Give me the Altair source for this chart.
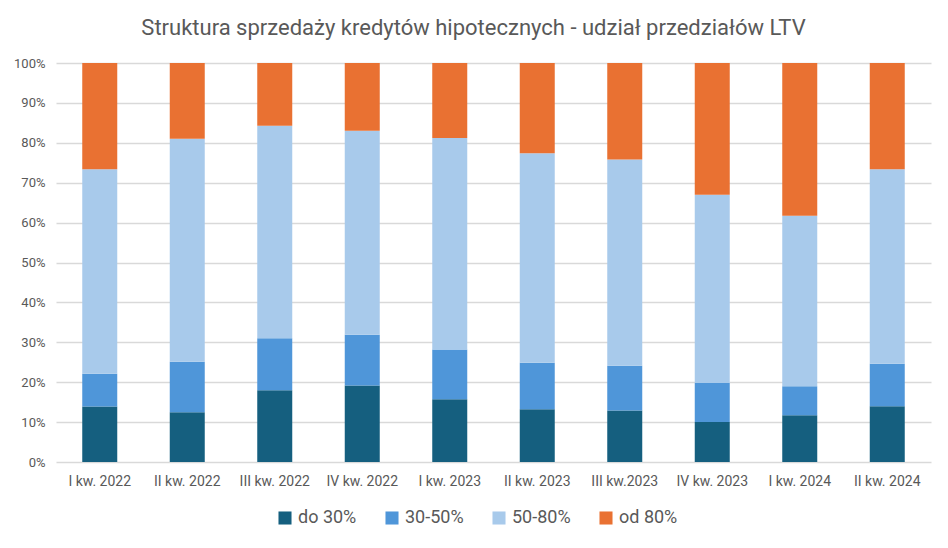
import altair as alt
import pandas as pd

quarters = ["I kw. 2022", "II kw. 2022", "III kw. 2022", "IV kw. 2022", "I kw. 2023",
            "II kw. 2023", "III kw.2023", "IV kw. 2023", "I kw. 2024", "II kw. 2024"]
series = ["do 30%", "30-50%", "50-80%", "od 80%"]
colors = ["#155f7f", "#4f96d9", "#a8caeb", "#e97132"]

do_30 = [13.9, 12.5, 18.0, 19.2, 15.7, 13.2, 12.9, 10.0, 11.7, 14.0]
od_30_50 = [8.2, 12.6, 13.0, 12.7, 12.5, 11.7, 11.2, 9.8, 7.3, 10.6]
od_50_80 = [51.3, 55.9, 53.3, 51.1, 53.0, 52.5, 51.7, 47.2, 42.7, 48.8]
od_80 = [26.6, 19.0, 15.7, 17.0, 18.8, 22.6, 24.2, 33.0, 38.3, 26.6]

rows = []
for idx, (name, vals) in enumerate(zip(series, [do_30, od_30_50, od_50_80, od_80])):
    for q, v in zip(quarters, vals):
        rows.append({"kwartal": q, "LTV": name, "udzial": v / 100, "idx": idx})
df = pd.DataFrame(rows)

font = "Roboto"
grey = "#595959"

chart = alt.Chart(df).mark_bar(size=35).encode(
    x=alt.X("kwartal:N", sort=quarters, title=None,
            axis=alt.Axis(labelAngle=0, labelFontSize=14, labelColor=grey, labelFont=font,
                          ticks=False, domain=False, labelPadding=12)),
    y=alt.Y("udzial:Q", title=None, stack="zero",
            scale=alt.Scale(domain=[0, 1]),
            axis=alt.Axis(format=".0%", values=[i / 10 for i in range(11)],
                          labelFontSize=13, labelColor=grey, labelFont=font,
                          ticks=False, domain=False, labelPadding=11,
                          gridColor="#d9d9d9", gridWidth=1.3)),
    color=alt.Color("LTV:N", sort=series,
                    scale=alt.Scale(domain=series, range=colors),
                    legend=alt.Legend(title=None, orient="none", direction="horizontal",
                                      legendX=220, legendY=446, symbolType="square",
                                      symbolSize=170, symbolStrokeWidth=0,
                                      labelFontSize=18, labelColor=grey, labelFont=font,
                                      columnPadding=26, symbolOpacity=1)),
    order=alt.Order("idx:Q", sort="ascending"),
).properties(
    width=875,
    height=399,
    title=alt.TitleParams("Struktura sprzedaży kredytów hipotecznych - udział przedziałów LTV",
                          fontSize=22, font=font, color=grey, fontWeight="normal",
                          offset=17, dx=-20),
    autosize=alt.AutoSizeParams(type="none"),
    padding={"left": 48, "top": 55, "right": 9, "bottom": 78},
).configure_view(stroke=None).configure_scale(bandPaddingInner=0.6, bandPaddingOuter=0.3)

chart.save("out.html", embed_options={"renderer": "svg", "actions": False})
